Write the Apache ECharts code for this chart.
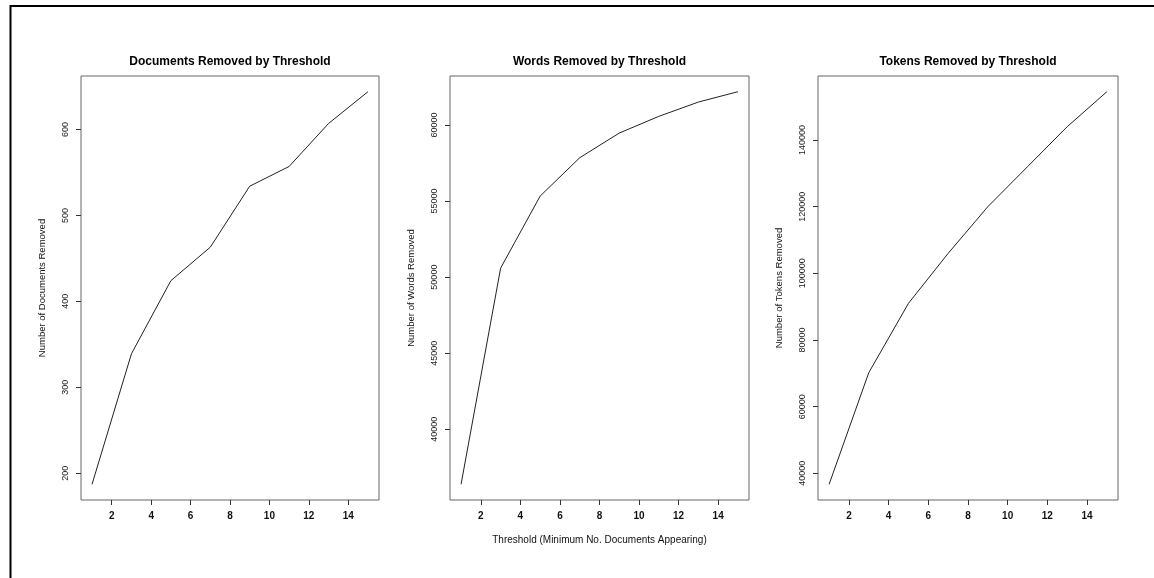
<!DOCTYPE html>
<html>
<head>
<meta charset="utf-8">
<script src="https://cdn.jsdelivr.net/npm/echarts@6/dist/echarts.min.js"></script>
<style>
html,body{margin:0;padding:0;background:#fff;}
#chart{width:1154px;height:578px;}
</style>
</head>
<body>
<div id="chart"></div>
<script>
// ---- data ----
const thresholds = [1, 3, 5, 7, 9, 11, 13, 15];
const documentsRemoved = [187, 339, 424, 463, 534, 557, 607, 644];
const wordsRemoved = [36380, 50590, 55330, 57850, 59470, 60570, 61510, 62190];
const tokensRemoved = [36700, 70200, 91000, 106000, 120000, 132000, 144000, 154500];
const xTickValues = [2, 4, 6, 8, 10, 12, 14];
const titles = ['Documents Removed by Threshold', 'Words Removed by Threshold', 'Tokens Removed by Threshold'];
const yNames = ['Number of Documents Removed', 'Number of Words Removed', 'Number of Tokens Removed'];
const yTicks = [
  [200, 300, 400, 500, 600],
  [40000, 45000, 50000, 55000, 60000],
  [40000, 60000, 80000, 100000, 120000, 140000]
];
const xTitle = 'Threshold (Minimum No. Documents Appearing)';

// ---- layout ----
const FONT = '"Liberation Sans", Arial, sans-serif';
const grids = [
  {left: 81, top: 76, width: 298, height: 424},
  {left: 450, top: 76, width: 299, height: 424},
  {left: 818, top: 76, width: 300, height: 424}
];
const series = [documentsRemoved, wordsRemoved, tokensRemoved];

function extRange(arr) {
  const lo = Math.min.apply(null, arr), hi = Math.max.apply(null, arr);
  const d = (hi - lo) * 0.04;
  return [lo - d, hi + d];
}
const xr = extRange(thresholds);

const option = {
  animation: false,
  backgroundColor: '#fff',
  title: grids.map((g, i) => ({
    text: titles[i],
    left: g.left + g.width / 2,
    top: 56,
    padding: 0,
    textAlign: 'center',
    textStyle: {fontFamily: FONT, fontSize: 12, fontWeight: 'bold', color: '#000'}
  })),
  grid: grids.map(g => Object.assign({show: true, borderColor: '#666', borderWidth: 1, backgroundColor: 'transparent', containLabel: false}, g)),
  xAxis: grids.map((g, i) => ({
    type: 'value',
    gridIndex: i,
    min: xr[0],
    max: xr[1],
    name: i === 1 ? xTitle : '',
    nameLocation: 'middle',
    nameGap: 35,
    nameTextStyle: {fontFamily: FONT, fontSize: 10, color: '#111'},
    axisLine: {show: false},
    splitLine: {show: false},
    axisTick: {show: true, length: 5, lineStyle: {color: '#333'}, customValues: xTickValues},
    axisLabel: {show: true, margin: 11, fontFamily: FONT, fontSize: 10, fontWeight: 'bold', color: '#111', customValues: xTickValues}
  })),
  yAxis: grids.map((g, i) => {
    const yr = extRange(series[i]);
    return {
      type: 'value',
      gridIndex: i,
      min: yr[0],
      max: yr[1],
      name: yNames[i],
      nameLocation: 'middle',
      nameRotate: 90,
      nameGap: 34,
      nameTextStyle: {fontFamily: FONT, fontSize: 9.5, color: '#111'},
      axisLine: {show: false},
      splitLine: {show: false},
      axisTick: {show: true, length: 5, lineStyle: {color: '#333'}, customValues: yTicks[i]},
      axisLabel: {show: true, rotate: 90, margin: 11, fontFamily: FONT, fontSize: 9, color: '#222',
        customValues: yTicks[i], formatter: v => String(Math.round(v))}
    };
  }),
  series: series.map((s, i) => ({
    type: 'line',
    xAxisIndex: i,
    yAxisIndex: i,
    data: thresholds.map((t, k) => [t, s[k]]),
    showSymbol: false,
    symbol: 'none',
    lineStyle: {color: '#222', width: 1},
    silent: true
  })),
  graphic: [{
    type: 'rect',
    shape: {x: 10.5, y: 6, width: 1200, height: 700},
    style: {fill: 'none', stroke: '#000', lineWidth: 2},
    silent: true
  }]
};

const chart = echarts.init(document.getElementById('chart'), null, {renderer: 'canvas'});
chart.setOption(option);
</script>
</body>
</html>
